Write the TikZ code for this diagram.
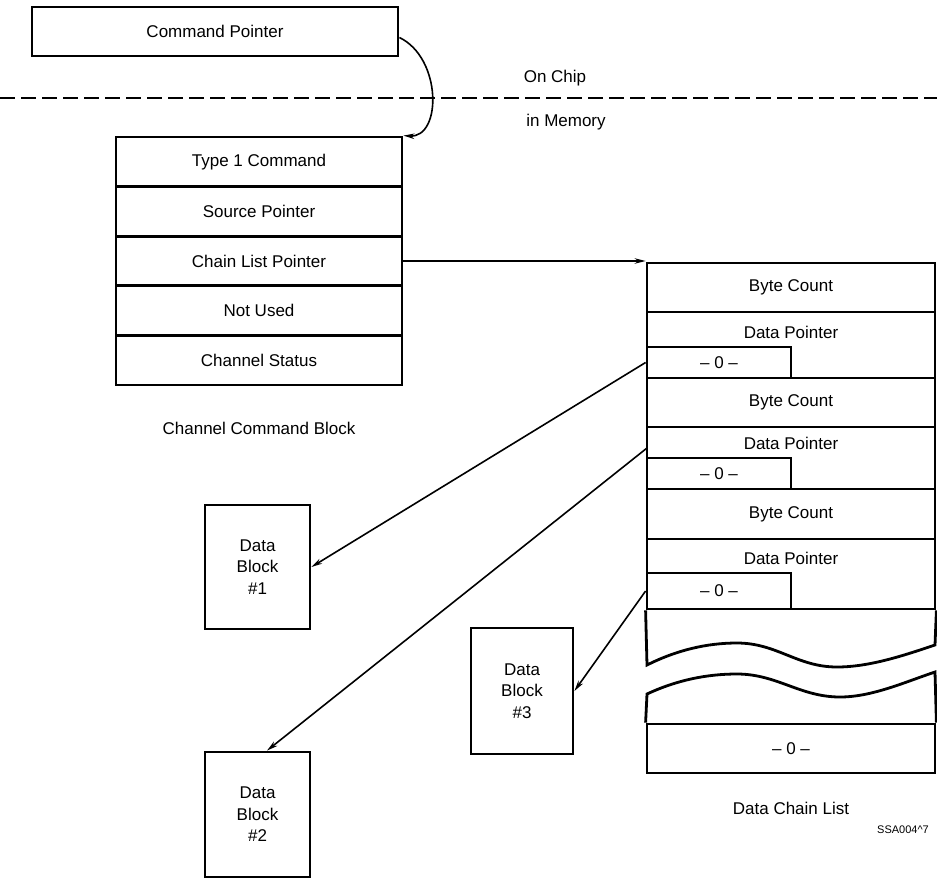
\documentclass[tikz,border=0pt]{standalone}
\usepackage{fontspec}
\setmainfont{Liberation Sans}
\usetikzlibrary{arrows.meta,calc}
\tikzset{
  boxline/.style={line width=2.8pt, line join=miter},
  box/.style={boxline, draw, inner sep=0pt, font=\fontsize{17}{21.5}\selectfont, align=center},
  lbl/.style={inner sep=0pt, font=\fontsize{17}{21.5}\selectfont},
  conn/.style={line width=1.6pt, -{Stealth[length=11pt,width=5.5pt]}},
  ccbrow/.style={box, minimum width=286pt, minimum height=49.6pt},
  dclrow/.style={box, minimum width=288pt},
  zerobox/.style={box, minimum width=144pt},
  datablk/.style={box, minimum width=105pt, minimum height=124pt}
}
\begin{document}
\begin{tikzpicture}[x=1pt,y=-1pt]
\useasboundingbox (0,0) rectangle (937,879);

% command pointer (on chip)
\node[box, minimum width=366pt, minimum height=49pt] (cp) at (215,31.5) {Command Pointer};

% chip / memory boundary
\draw[line width=2.4pt, dash pattern=on 15pt off 6pt] (0,98) -- (937,98);
\node[lbl] (onchip) at (555,78) {On Chip};
\node[lbl] (inmem) at (566,122) {in Memory};

% channel command block
\node[ccbrow] (t1) at (259,161.8) {Type 1 Command};
\node[ccbrow] (t2) at (259,211.4) {Source Pointer};
\node[ccbrow] (t3) at (259,261) {Chain List Pointer};
\node[ccbrow] (t4) at (259,310.6) {Not Used};
\node[ccbrow] (t5) at (259,360.2) {Channel Status};
\node[lbl] (ccblbl) at (259,428) {Channel Command Block};

% data chain list
\node[dclrow, minimum height=49pt] (bc1) at (791,287.5) {Byte Count};
\node[dclrow, minimum height=66pt] (dp1) at (791,345) {};
\node[lbl] (dp1t) at (791,332) {Data Pointer};
\node[zerobox, minimum height=31pt] (z1) at (719,362.5) {-- 0 --};

\node[dclrow, minimum height=49pt] (bc2) at (791,402.5) {Byte Count};
\node[dclrow, minimum height=62pt] (dp2) at (791,458) {};
\node[lbl] (dp2t) at (791,443) {Data Pointer};
\node[zerobox, minimum height=31pt] (z2) at (719,473.5) {-- 0 --};

\node[dclrow, minimum height=50pt] (bc3) at (791,514) {Byte Count};
\node[dclrow, minimum height=70pt] (dp3) at (791,574) {};
\node[lbl] (dp3t) at (791,558) {Data Pointer};
\node[zerobox, minimum height=36pt] (z3) at (719,591) {-- 0 --};

% break in the list
\draw[boxline] (dp3.south west) -- (647,665)
  .. controls (677,650) and (707,643) .. (737,643)
  .. controls (777,643) and (797,667) .. (837,667)
  .. controls (870,667) and (905,655) .. (935,645) -- (dp3.south east);

\node[dclrow, minimum height=49pt] (zl) at (791,748.5) {-- 0 --};
\draw[boxline] (zl.north west) -- (647,694)
  .. controls (677,680) and (707,674) .. (737,674)
  .. controls (777,674) and (800,697) .. (840,697)
  .. controls (872,697) and (905,682) .. (935,672) -- (zl.north east);

\node[lbl] (dcllbl) at (791,808) {Data Chain List};
\node[inner sep=0pt, font=\fontsize{11}{13}\selectfont] (code) at (903,830) {SSA004\textasciicircum 7};

% data blocks
\node[datablk] (b1) at (257.5,567) {Data\\Block\\\#1};
\node[datablk, minimum height=125pt] (b2) at (257.5,814.5) {Data\\Block\\\#2};
\node[datablk, minimum width=102pt, minimum height=126pt] (b3) at (522,691) {Data\\Block\\\#3};

% connectors
\draw[conn] ($(cp.east)+(0,6)$) .. controls (442,58) and (442,138) .. (t1.north east);
\draw[conn] (t3.east) -- (t3.east -| bc1.west);
\draw[conn] (z1.west) -- (b1.east);
\coordinate (s2) at (647,448);
\draw[conn] (s2) -- ($(b2.north)+(9.5,0)$);
\draw[conn] (z3.west) -- (b3.east);
\end{tikzpicture}
\end{document}
